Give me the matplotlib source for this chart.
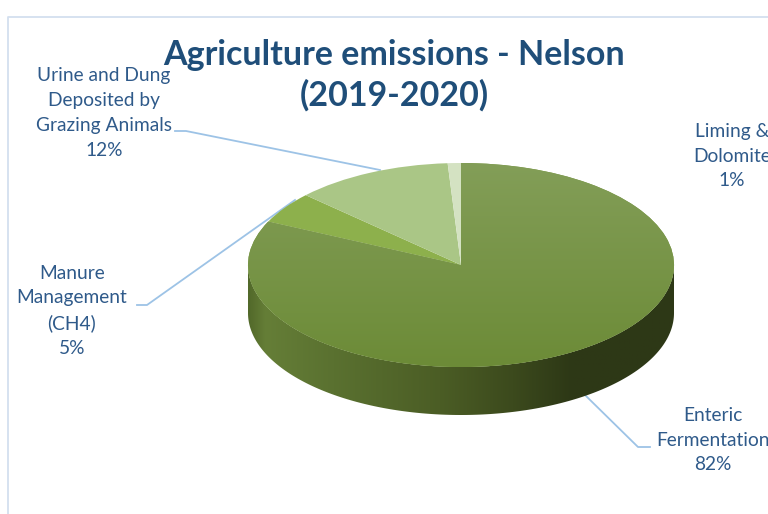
import numpy as np
import matplotlib
matplotlib.use("Agg")
import matplotlib.pyplot as plt
from matplotlib.colors import LinearSegmentedColormap
from matplotlib.patches import Polygon

# emissions share by source (%)
sources = ["Enteric\nFermentation", "Manure\nManagement\n(CH4)",
           "Urine and Dung\nDeposited by\nGrazing Animals", "Liming &\nDolomite"]
shares = [82, 5, 12, 1]
top_colors = ["#76953f", "#8db04c", "#aac686", "#d4e2c2"]

title = "Agriculture emissions - Nelson\n(2019-2020)"
label_color = "#2f5a8a"
title_color = "#1f4e79"
leader_color = "#9dc3e6"

W, H = 768, 514
fig = plt.figure(figsize=(W / 100, H / 100), dpi=100)

# background axes in pixel units for border, labels and leader lines
bg = fig.add_axes([0, 0, 1, 1])
bg.set_xlim(0, W)
bg.set_ylim(H, 0)
bg.axis("off")
bg.plot([7.5, 7.5, W + 5], [H + 5, 16.5, 16.5], color="#d3dfef", lw=1.3)

bg.text(394, 75, title, ha="center", va="center", fontsize=24.5,
        fontweight="bold", color=title_color, family="Lato", linespacing=1.3)

# pie axes: unit circle mapped to an ellipse (a=213px, b=102px) centred at (461, 265)
cx, cy, a, b = 461, 265, 213, 102
depth = 48 / b
ax = fig.add_axes([0, 0, 1, 1])
ax.axis("off")

wedges, _ = ax.pie(shares, colors=top_colors, startangle=90, counterclock=False,
                   radius=1, wedgeprops=dict(linewidth=0))
ax.set_aspect("auto")

# side wall of the front half (all part of the first wedge)
t = np.linspace(np.pi, 2 * np.pi, 200)
xs, ys = np.cos(t), np.sin(t)
side = np.vstack([np.column_stack([xs, ys]),
                  np.column_stack([xs[::-1], ys[::-1] - depth])])
side_patch = Polygon(side, closed=True, facecolor="none", edgecolor="none")
ax.add_patch(side_patch)
side_cmap = LinearSegmentedColormap.from_list(
    "side", [(0, "#52692a"), (0.04, "#657e37"), (0.2, "#5a7130"),
             (0.45, "#4b5d25"), (0.62, "#3c4a1d"), (0.76, "#2d3816"),
             (1, "#2e3817")])
grad = np.linspace(0, 1, 256).reshape(1, -1)
im = ax.imshow(grad, cmap=side_cmap, extent=[-1, 1, -1 - depth, 0],
               aspect="auto", zorder=0.5)
im.set_clip_path(side_patch)

# soft vertical shading on the big top wedge
top_cmap = LinearSegmentedColormap.from_list("top", ["#6c8b37", "#839e58"])
vgrad = np.linspace(0, 1, 256).reshape(-1, 1)
im2 = ax.imshow(vgrad, cmap=top_cmap, extent=[-1, 1, -1, 1], origin="lower",
                aspect="auto", zorder=wedges[0].get_zorder() + 0.1)
im2.set_clip_path(wedges[0])
ax.set_xlim(-cx / a, (W - cx) / a)
ax.set_ylim((cy - H) / b, cy / b)

# data labels with percentages
label_pos = [(713, 440), (72, 311), (104, 113), (732, 156)]
for name, val, (lx, ly) in zip(sources, shares, label_pos):
    bg.text(lx, ly, f"{name}\n{val}%", ha="center", va="center", fontsize=13.8,
            color=label_color, family="Lato", linespacing=1.55)

leaders = [
    ([585, 638, 650], [395, 447, 447]),
    ([137, 147, 295], [305, 305, 200]),
    ([175, 186, 380], [131, 131, 170]),
]
for lxs, lys in leaders:
    bg.plot(lxs, lys, color=leader_color, lw=1.3)

fig.savefig("out.png", dpi=100)
